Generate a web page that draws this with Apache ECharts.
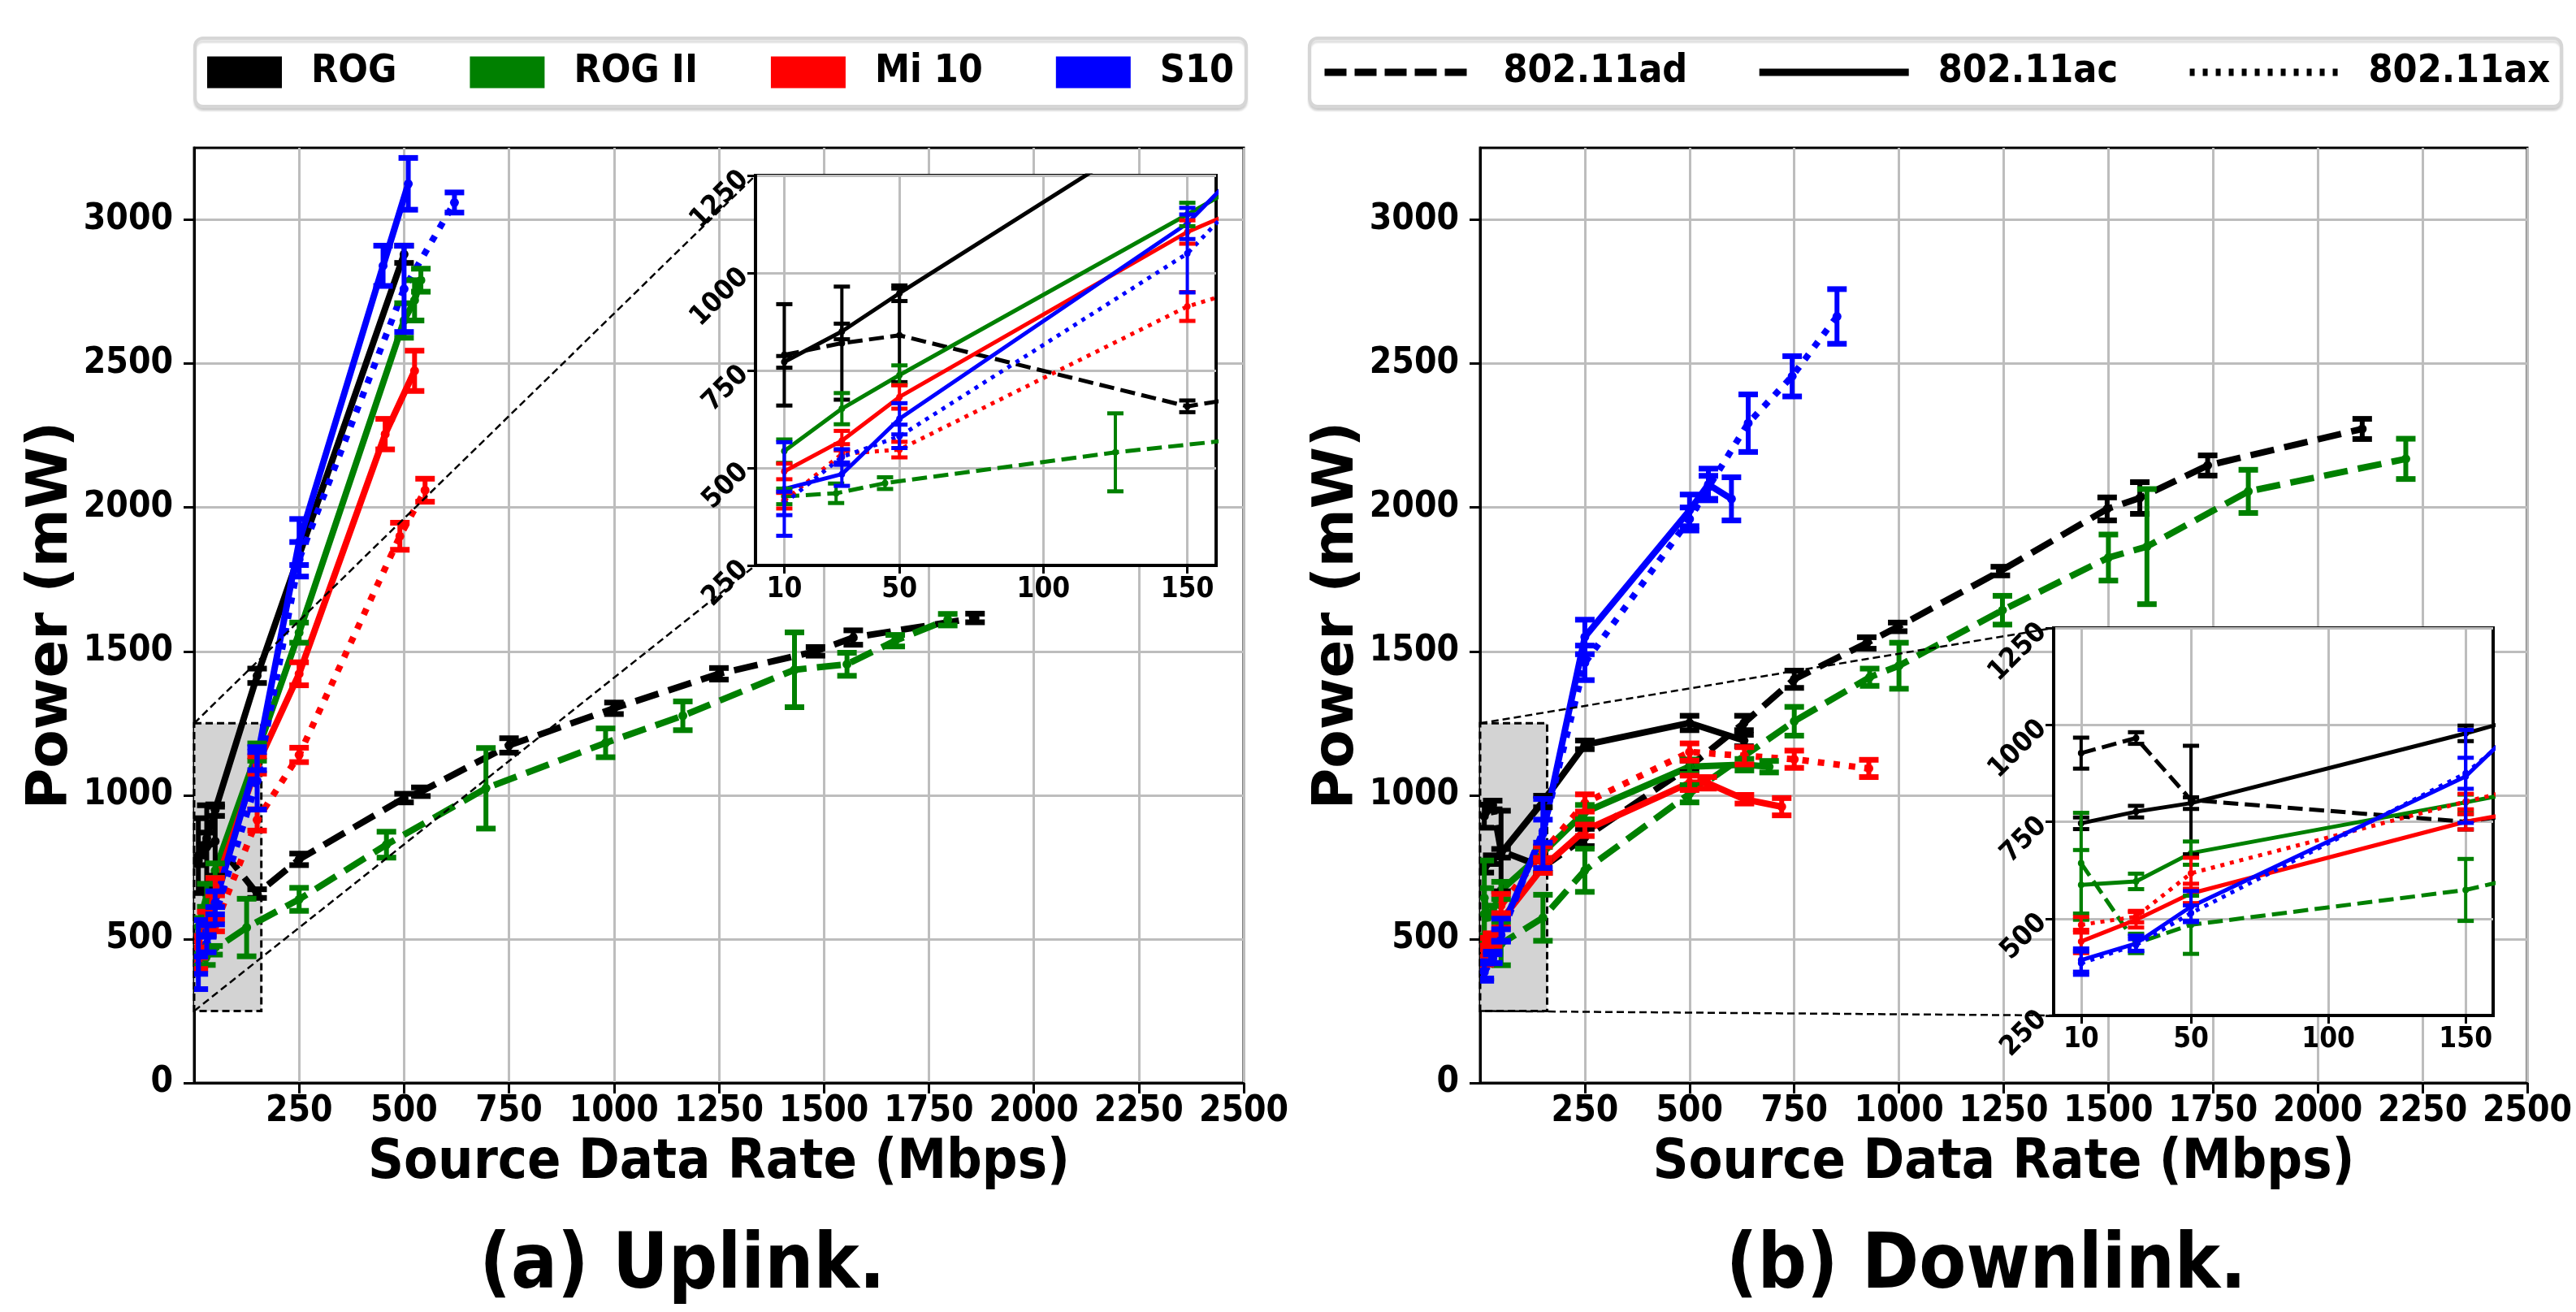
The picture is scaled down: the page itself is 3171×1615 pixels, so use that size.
<!DOCTYPE html>
<html><head><meta charset="utf-8">
<script src="https://cdn.jsdelivr.net/npm/echarts@6/dist/echarts.min.js"></script>
<style>html,body{margin:0;padding:0;background:#fff;}#c{width:3171px;height:1615px;}</style>
</head><body><div id="c"></div>
<script>
// ---------------- data ----------------
const X_TICKS = [250, 500, 750, 1000, 1250, 1500, 1750, 2000, 2250, 2500];
const Y_TICKS = [0, 500, 1000, 1500, 2000, 2500, 3000];
const INSET_X_TICKS = [10, 50, 100, 150];
const INSET_Y_TICKS = [250, 500, 750, 1000, 1250];
const INSET_X_RANGE = [0, 160];
const INSET_Y_RANGE = [250, 1250];
const DEVICES = ['ROG', 'ROG II', 'Mi 10', 'S10'];
const PROTOCOLS = ['802.11ad', '802.11ac', '802.11ax'];
const PANEL_TITLES = ['(a) Uplink.', '(b) Downlink.'];
const X_NAME = 'Source Data Rate (Mbps)';
const Y_NAME = 'Power (mW)';

// [source data rate (Mbps), power (mW), error (mW)]
// ---- Uplink ----
const UL_ROG_AD = [[10,790,130],[30,820,145],[50,840,120],[150,658,15],[250,777,20],[500,990,15],[540,1012,15],[750,1173,25],[1000,1302,20],[1250,1422,20],[1480,1500,15],[1570,1548,25],[1860,1616,15]];
const UL_ROG_AC = [[10,772,15],[30,850,20],[50,948,20],[150,1415,25],[500,2880,30]];
const UL_ROGII_AD = [[10,427,20],[28,435,25],[45,461,15],[125,540,100],[250,638,40],[458,828,45],[695,1024,140],[980,1182,50],[1164,1276,50],[1430,1436,130],[1555,1455,40],[1670,1537,20],[1795,1610,20]];
const UL_ROGII_AC = [[10,543,30],[30,652,40],[50,738,25],[150,1150,30],[250,1565,35],[500,2650,60],[525,2720,70],[540,2790,40]];
const UL_MI10_AC = [[10,491,20],[30,570,25],[50,682,30],[150,1105,30],[250,1422,40],[455,2255,53],[525,2475,70]];
const UL_MI10_AX = [[10,416,20],[30,536,25],[50,547,20],[150,914,37],[250,1140,25],[490,1900,47],[550,2060,40]];
const UL_S10_AC = [[10,446,120],[30,484,30],[50,626,40],[150,1127,40],[250,1880,80],[450,2840,70],[510,3125,90]];
const UL_S10_AX = [[10,409,30],[30,528,20],[50,581,30],[150,1050,100],[250,1820,60],[500,2760,150],[620,3060,35]];
// ---- Downlink ----
const DL_ROG_AD = [[10,927,40],[30,966,15],[50,806,140],[150,750,20],[250,853,30],[500,1100,20],[630,1251,25],[750,1403,30],[923,1529,20],[997,1585,15],[1242,1779,15],[1497,1995,40],[1575,2033,55],[1737,2146,35],[2106,2273,35]];
const DL_ROG_AC = [[10,746,15],[30,776,15],[50,798,15],[150,978,20],[250,1175,15],[500,1251,25],[630,1190,20]];
const DL_ROGII_AD = [[10,643,130],[30,436,25],[50,484,75],[150,574,80],[250,739,75],[500,1005,30],[750,1257,50],[930,1410,30],[1000,1450,80],[1247,1643,50],[1500,1826,80],[1592,1864,200],[1834,2056,75],[2210,2169,70]];
const DL_ROGII_AC = [[10,587,90],[30,596,20],[50,669,30],[150,800,20],[250,941,25],[500,1099,25],[631,1106,20],[690,1099,20]];
const DL_MI10_AC = [[10,441,30],[30,497,20],[50,565,25],[150,750,20],[250,878,20],[500,1043,25],[542,1043,20],[631,986,15],[720,960,30]];
const DL_MI10_AX = [[10,484,20],[30,505,15],[50,617,40],[150,802,20],[250,973,30],[500,1150,30],[631,1137,30],[750,1125,30],[928,1093,30]];
const DL_S10_AC = [[10,393,30],[30,436,20],[50,531,40],[150,867,120],[250,1550,60],[500,1990,55],[545,2080,55],[600,2030,75]];
const DL_S10_AX = [[10,385,30],[30,432,15],[50,514,20],[150,875,40],[250,1460,60],[500,1960,40],[545,2070,40],[640,2293,100],[745,2456,70],[852,2664,95]];

// series table: [points, device index, protocol index]
const PANELS = [
  [[UL_ROG_AD,0,0],[UL_ROG_AC,0,1],[UL_ROGII_AD,1,0],[UL_ROGII_AC,1,1],[UL_MI10_AC,2,1],[UL_MI10_AX,2,2],[UL_S10_AC,3,1],[UL_S10_AX,3,2]],
  [[DL_ROG_AD,0,0],[DL_ROG_AC,0,1],[DL_ROGII_AD,1,0],[DL_ROGII_AC,1,1],[DL_MI10_AC,2,1],[DL_MI10_AX,2,2],[DL_S10_AC,3,1],[DL_S10_AX,3,2]]
];

// ---------------- styles ----------------
const COLORS = ['#000000', '#008000', '#ff0000', '#0000ff'];
const FONT_C = "'DejaVu Sans Condensed', 'DejaVu Sans', sans-serif";
const FONT_R = "'DejaVu Sans', sans-serif";
function dashFor(proto, lw) {
  if (proto === 0) return [3.7 * lw, 1.6 * lw];
  if (proto === 2) return [1.0 * lw, 1.4 * lw];
  return 'solid';
}
const plainNum = v => String(v);
function errRender(capW, lw, capLw, color) {
  return function (params, api) {
    const x = api.value(0), y = api.value(1), e = api.value(2);
    const t = api.coord([x, y + e]), b = api.coord([x, y - e]);
    return { type: 'group', children: [
      { type: 'line', shape: { x1: t[0], y1: t[1], x2: b[0], y2: b[1] }, style: { stroke: color, lineWidth: lw } },
      { type: 'line', shape: { x1: t[0] - capW / 2, y1: t[1], x2: t[0] + capW / 2, y2: t[1] }, style: { stroke: color, lineWidth: capLw } },
      { type: 'line', shape: { x1: b[0] - capW / 2, y1: b[1], x2: b[0] + capW / 2, y2: b[1] }, style: { stroke: color, lineWidth: capLw } }
    ]};
  };
}

const GRIDS = [
  { left: 239, top: 182, width: 1292, height: 1151, show: true, borderColor: '#000', borderWidth: 3, z: 0 },
  { left: 1822, top: 182, width: 1289, height: 1151, show: true, borderColor: '#000', borderWidth: 3, z: 0 },
  { left: 930, top: 216, width: 567, height: 480, show: true, backgroundColor: '#fff', borderColor: '#000', borderWidth: 4, z: 20 },
  { left: 2528, top: 773, width: 541, height: 477, show: true, backgroundColor: '#fff', borderColor: '#000', borderWidth: 4, z: 20 }
];

const tickLbl = (size) => ({ fontSize: size, fontWeight: 'bold', fontFamily: FONT_C, color: '#000', formatter: plainNum });
const gridLine = { show: true, lineStyle: { color: '#bdbdbd', width: 3 } };

const xAxes = [], yAxes = [];
for (let p = 0; p < 2; p++) {
  xAxes.push({ gridIndex: p, type: 'value', min: 0, max: 2500, interval: 250,
    axisLine: { show: true, onZero: false, lineStyle: { color: '#000', width: 3 } },
    axisTick: { show: true, length: 13, customValues: X_TICKS, lineStyle: { color: '#000', width: 3 } },
    axisLabel: Object.assign({ customValues: X_TICKS, margin: 14 }, tickLbl(44)),
    splitLine: gridLine,
    name: X_NAME, nameLocation: 'middle', nameGap: 65, nameMoveOverlap: false,
    nameTextStyle: { fontSize: 68, fontWeight: 'bold', fontFamily: FONT_C, color: '#000' } });
  yAxes.push({ gridIndex: p, type: 'value', min: 0, max: 3250, interval: 500,
    axisLine: { show: true, onZero: false, lineStyle: { color: '#000', width: 3 } },
    axisTick: { show: true, length: 13, customValues: Y_TICKS, lineStyle: { color: '#000', width: 3 } },
    axisLabel: Object.assign({ customValues: Y_TICKS, margin: 26 }, tickLbl(44)),
    splitLine: gridLine,
    name: Y_NAME, nameLocation: 'middle', nameGap: 140, nameRotate: 90, nameMoveOverlap: false,
    nameTextStyle: { fontSize: 69, fontWeight: 'bold', fontFamily: FONT_R, color: '#000' } });
}
for (let p = 0; p < 2; p++) {
  xAxes.push({ gridIndex: p + 2, type: 'value', min: INSET_X_RANGE[0], max: INSET_X_RANGE[1], interval: 50, z: 21,
    axisLine: { show: true, onZero: false, lineStyle: { color: '#000', width: 4 } },
    axisTick: { show: true, length: 10, customValues: INSET_X_TICKS, lineStyle: { color: '#000', width: 3 } },
    axisLabel: Object.assign({ customValues: INSET_X_TICKS, margin: 12 }, tickLbl(35)),
    splitLine: gridLine });
  yAxes.push({ gridIndex: p + 2, type: 'value', min: INSET_Y_RANGE[0], max: INSET_Y_RANGE[1], interval: 250, z: 21,
    axisLine: { show: true, onZero: false, lineStyle: { color: '#000', width: 4 } },
    axisTick: { show: true, length: 10, customValues: INSET_Y_TICKS, lineStyle: { color: '#000', width: 3 } },
    axisLabel: Object.assign({ customValues: INSET_Y_TICKS, margin: 14, rotate: 45 }, tickLbl(34)),
    splitLine: gridLine });
}

const series = [];
// shaded zoom region in each main panel
for (let p = 0; p < 2; p++) {
  series.push({ type: 'custom', xAxisIndex: p, yAxisIndex: p, z: 1, silent: true, clip: false,
    data: [[INSET_X_RANGE[0], INSET_Y_RANGE[0], INSET_X_RANGE[1], INSET_Y_RANGE[1]]],
    encode: { x: [0, 2], y: [1, 3] },
    renderItem: function (params, api) {
      const a = api.coord([api.value(0), api.value(3)]);
      const b = api.coord([api.value(2), api.value(1)]);
      return { type: 'rect', shape: { x: a[0], y: a[1], width: b[0] - a[0], height: b[1] - a[1] },
        style: { fill: '#d3d3d3', stroke: '#000', lineWidth: 3, lineDash: [9, 5] } };
    } });
}
for (let p = 0; p < 2; p++) {
  PANELS[p].forEach(([pts, dev, proto]) => {
    const color = COLORS[dev];
    [{ xi: p, lw: 8, sym: 11, cap: 24, elw: 6, clw: 7, z: 3 }, { xi: p + 2, lw: 5, sym: 8, cap: 20, elw: 4, clw: 5, z: 30 }].forEach(g => {
      series.push({ type: 'line', xAxisIndex: g.xi, yAxisIndex: g.xi, data: pts.map(d => [d[0], d[1]]),
        symbol: 'circle', symbolSize: g.sym, showSymbol: true, clip: true, silent: true, z: g.z,
        lineStyle: { color: color, width: g.lw, type: dashFor(proto, g.lw), cap: 'butt' },
        itemStyle: { color: color } });
      series.push({ type: 'custom', xAxisIndex: g.xi, yAxisIndex: g.xi, data: pts, encode: { x: 0, y: 1 },
        renderItem: errRender(g.cap, g.elw, g.clw, color), clip: true, silent: true, z: g.z + 1 });
    });
  });
}
// legend-only series
DEVICES.forEach((n, i) => series.push({ type: 'line', name: n, data: [], xAxisIndex: 0, yAxisIndex: 0,
  itemStyle: { color: COLORS[i], borderWidth: 0 }, lineStyle: { color: COLORS[i] } }));
const LEGEND_DASH = [[27, 10], 'solid', [6, 10]];
PROTOCOLS.forEach((n, i) => series.push({ type: 'line', name: n, data: [], xAxisIndex: 0, yAxisIndex: 0, symbol: 'none',
  itemStyle: { color: 'rgba(0,0,0,0)', borderColor: 'rgba(0,0,0,0)', borderWidth: 0 },
  lineStyle: { color: '#000', width: 9, type: LEGEND_DASH[i] } }));

const legendText = { fontSize: 48, fontWeight: 'bold', fontFamily: FONT_C, color: '#000', padding: [0, 0, 0, 31] };
const legendBox = { borderColor: '#d6d6d6', borderWidth: 4, borderRadius: 10, backgroundColor: '#fff',
  shadowColor: 'rgba(0,0,0,0.12)', shadowOffsetY: 4, shadowBlur: 2, selectedMode: false, orient: 'horizontal' };

const option = {
  animation: false,
  backgroundColor: '#fff',
  grid: GRIDS,
  xAxis: xAxes,
  yAxis: yAxes,
  legend: [
    Object.assign({ data: DEVICES.map(n => ({ name: n, icon: 'rect' })), left: 240, top: 47,
      itemWidth: 92, itemHeight: 39, itemGap: 90, padding: [18, 15, 18, 15], textStyle: legendText }, legendBox),
    Object.assign({ data: PROTOCOLS.map((n, i) => ({ name: n,
        itemStyle: { color: 'rgba(0,0,0,0)', borderWidth: 0 },
        lineStyle: { width: 9, color: '#000', type: LEGEND_DASH[i], cap: 'butt' } })),
      left: 1612, top: 47, width: 1570, itemWidth: 184, itemHeight: 20, itemGap: 84, padding: [18, 14, 18, 14],
      lineStyle: { width: 9 }, textStyle: legendText }, legendBox)
  ],
  title: [
    { text: PANEL_TITLES[0], left: 840, top: 1514, textAlign: 'center', padding: 0,
      textStyle: { fontSize: 94, fontWeight: 'bold', fontFamily: FONT_C, color: '#000' } },
    { text: PANEL_TITLES[1], left: 2445, top: 1514, textAlign: 'center', padding: 0,
      textStyle: { fontSize: 94, fontWeight: 'bold', fontFamily: FONT_C, color: '#000' } }
  ],
  series: series
};

const chart = echarts.init(document.getElementById('c'), null, { renderer: 'canvas' });
chart.setOption(option);

// connector lines from shaded region to inset
const graphics = [];
for (let p = 0; p < 2; p++) {
  [INSET_Y_RANGE[1], INSET_Y_RANGE[0]].forEach(yv => {
    const a = chart.convertToPixel({ gridIndex: p }, [INSET_X_RANGE[0], yv]);
    const b = chart.convertToPixel({ gridIndex: p + 2 }, [INSET_X_RANGE[0], yv]);
    graphics.push({ type: 'line', z: 15, silent: true, shape: { x1: a[0], y1: a[1], x2: b[0], y2: b[1] },
      style: { stroke: '#000', lineWidth: 2.5, lineDash: [9, 5] } });
  });
}
chart.setOption({ graphic: graphics });
</script></body></html>
